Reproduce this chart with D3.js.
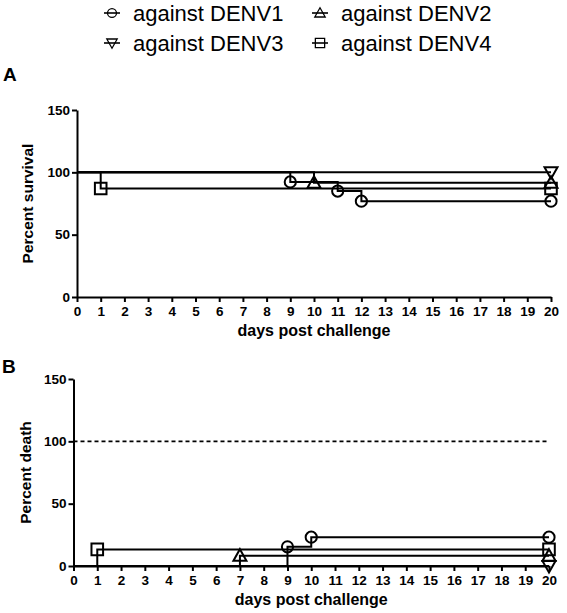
<!DOCTYPE html>
<html><head><meta charset="utf-8">
<script src="https://cdn.jsdelivr.net/npm/d3@7"></script>
<style>body{margin:0;background:#fff}svg{display:block}text{font-family:"Liberation Sans",Arial,sans-serif}</style>
</head><body>
<svg id="c" width="567" height="613"></svg>
<script>
// ---- data ----
const seriesNames = ["against DENV1","against DENV2","against DENV3","against DENV4"];
const seriesShapes = ["circle","triangle","triangleDown","square"];
const dayTicks = d3.range(0,21);
const valueTicks = [0,50,100,150];
// Panel A: percent survival (step data: day, value)
const survDays1 = [0,9,11,12,20],  survVals1 = [100,92.3,85,76.9,76.9];
const survDays2 = [0,10,20],       survVals2 = [100,91.7,91.7];
const survDays3 = [0,20],          survVals3 = [100,100];
const survDays4 = [0,1,20],        survVals4 = [100,87,87];
// Panel B: percent death
const deathDays1 = [0,9,10,20],    deathVals1 = [0,15.4,23.1,23.1];
const deathDays2 = [0,7,20],       deathVals2 = [0,8.3,8.3];
const deathDays3 = [0,20],         deathVals3 = [0,0];
const deathDays4 = [0,1,20],       deathVals4 = [0,13.3,13.3];
const deathReference = 100;

const svg = d3.select("#c");
const FONT = '"Liberation Sans",Arial,sans-serif';

function shapePath(shape, x, y){
  const h=5.8;
  if(shape==="circle"){const r=5.6;return `M${x-r},${y}a${r},${r} 0 1,0 ${2*r},0a${r},${r} 0 1,0 ${-2*r},0Z`;}
  if(shape==="square") return `M${x-h},${y-h}h${2*h}v${2*h}h${-2*h}Z`;
  if(shape==="triangle") return `M${x},${y-6.5}L${x+6.5},${y+5}L${x-6.5},${y+5}Z`;
  if(shape==="triangleDown") return `M${x},${y+6.5}L${x+6.5},${y-5}L${x-6.5},${y-5}Z`;
}

function panel(opts){
  const x=d3.scaleLinear().domain([0,20]).range([opts.x0,opts.x1]);
  const y=d3.scaleLinear().domain([0,150]).range([opts.y0,opts.y1]);
  const g=svg.append("g");
  // axes
  const xa=g.append("g").attr("transform",`translate(0,${opts.y0})`)
    .call(d3.axisBottom(x).tickValues(dayTicks).tickSize(5).tickSizeOuter(0).tickPadding(4).tickFormat(d3.format("d")));
  const ya=g.append("g").attr("transform",`translate(${opts.x0},0)`)
    .call(d3.axisLeft(y).tickValues(valueTicks).tickSize(5).tickSizeOuter(0).tickPadding(2));
  [xa,ya].forEach(a=>{
    a.select(".domain").attr("stroke","#000").attr("stroke-width",2);
    a.selectAll(".tick line").attr("stroke","#000").attr("stroke-width",2);
    a.selectAll(".tick text").attr("fill","#000").style("font-family",FONT).style("font-size","13.5px").style("font-weight","bold");
  });
  if(opts.ref!==undefined){
    g.append("line").attr("x1",x(0)).attr("x2",x(20)).attr("y1",y(opts.ref)).attr("y2",y(opts.ref))
      .attr("stroke","#000").attr("stroke-width",1.6).attr("stroke-dasharray","4,3");
  }
  const line=d3.line().x(d=>x(d[0])).y(d=>y(d[1])).curve(d3.curveStepAfter);
  opts.series.forEach((s,i)=>{
    const pts=s.days.map((d,j)=>[d,s.vals[j]]);
    g.append("path").attr("d",line(pts)).attr("fill","none").attr("stroke","#000").attr("stroke-width",2);
    pts.slice(1).forEach(p=>{
      g.append("path").attr("d",shapePath(seriesShapes[i],x(p[0]),y(p[1])))
        .attr("fill","none").attr("stroke","#000").attr("stroke-width",2);
    });
  });
  // titles
  g.append("text").attr("x",(opts.x0+opts.x1)/2).attr("y",opts.y0+39).attr("text-anchor","middle")
    .style("font-size","16px").style("font-weight","bold").text("days post challenge");
  g.append("text").attr("transform",`translate(${opts.ytx},${(opts.y0+opts.y1)/2}) rotate(-90)`).attr("text-anchor","middle")
    .style("font-size","15.5px").style("font-weight","bold").text(opts.ytitle);
  g.append("text").attr("x",opts.lx).attr("y",opts.ly).style("font-size","19px").style("font-weight","bold").text(opts.letter);
}

panel({x0:77,x1:551,y0:297,y1:110,ytx:33,ytitle:"Percent survival",letter:"A",lx:3,ly:81,
  series:[{days:survDays1,vals:survVals1},{days:survDays2,vals:survVals2},{days:survDays3,vals:survVals3},{days:survDays4,vals:survVals4}]});
panel({x0:73.5,x1:549,y0:566,y1:379,ytx:31,ytitle:"Percent death",letter:"B",lx:2,ly:373,ref:deathReference,
  series:[{days:deathDays1,vals:deathVals1},{days:deathDays2,vals:deathVals2},{days:deathDays3,vals:deathVals3},{days:deathDays4,vals:deathVals4}]});

// legend
const legPos=[[112,13],[320,13],[112,43],[320,43]];
seriesNames.forEach((n,i)=>{
  const [cx,cy]=legPos[i];
  svg.append("line").attr("x1",cx-8).attr("x2",cx+8).attr("y1",cy).attr("y2",cy).attr("stroke","#000").attr("stroke-width",1.6);
  svg.append("path").attr("d",shapePath(seriesShapes[i],cx,cy)).attr("fill","none").attr("stroke","#000").attr("stroke-width",1.6)
    .attr("transform",`translate(${cx},${cy}) scale(0.8) translate(${-cx},${-cy})`);
  svg.append("text").attr("x",cx+21).attr("y",cy+8).style("font-size","22px").text(n);
});
</script>
</body></html>
